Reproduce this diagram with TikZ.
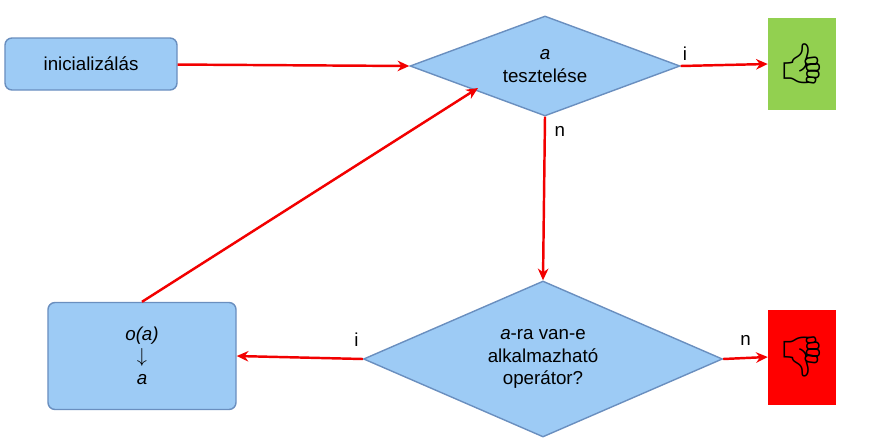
\documentclass[tikz,border=0pt]{standalone}
\usepackage{fontspec}
\setmainfont{Liberation Sans}
\newfontfamily\emojifont{Noto Emoji}
\usetikzlibrary{shapes.geometric,arrows.meta}
\definecolor{boxblue}{HTML}{9DCBF5}
\definecolor{edgeblue}{HTML}{6A8FBF}
\definecolor{okgreen}{HTML}{92D050}
\tikzset{
  step box/.style={draw=edgeblue, fill=boxblue, rounded corners=6pt, line width=1.2pt,
    font=\fontsize{16}{19}\selectfont, align=center},
  test/.style={diamond, draw=edgeblue, fill=boxblue, line width=1.2pt, inner sep=-10pt, aspect=2.5,
    font=\fontsize{16}{19}\selectfont, align=center},
  result/.style={minimum width=2.04cm, font=\emojifont\fontsize{34}{36}\selectfont},
  flow/.style={red!95!black, line width=2.1pt, -{Stealth[length=10pt,width=9pt]}},
  answer/.style={black, font=\fontsize{16}{19}\selectfont},
}
\begin{document}
\begin{tikzpicture}[x=0.03cm, y=-0.03cm]
    \useasboundingbox (0,0) rectangle (873,444);
    % csomópontok
    \node[step box, minimum width=5.16cm, minimum height=1.56cm] (init) at (91,64) {inicializálás};
    \node[test, minimum width=8.1cm, minimum height=3cm] (test) at (545,66) {\textit{a}\\tesztelése};
    \node[result, fill=okgreen, minimum height=2.76cm] (good) at (802,64) {👍};
    \node[test, minimum width=10.77cm, minimum height=4.68cm] (apply) at (543,359) {\textit{a}-ra van-e\\alkalmazható\\operátor?};
    \node[result, fill=red, minimum height=2.85cm] (bad) at (802,357) {👎};
    \node[step box, minimum width=5.64cm, minimum height=3.21cm] (op) at (142,356) {\textit{o(a)}\\$\downarrow$\\\textit{a}};
    \coordinate (hit) at (478,88);
    % élek
    \draw[flow] (init) -- (test.west);
    \draw[flow] (test.east) -- (good.west) node[answer, pos=0.05, above] {i};
    \draw[flow] (test.south) -- (apply.north) node[answer, pos=0.09, right=4pt] {n};
    \draw[flow] (apply.west) -- (op.east) node[answer, pos=0.05, above=6pt] {i};
    \draw[flow] (apply.east) -- (bad.west) node[answer, pos=0.5, above=6pt] {n};
    \draw[flow] (op.north) -- (hit);
\end{tikzpicture}
\end{document}
